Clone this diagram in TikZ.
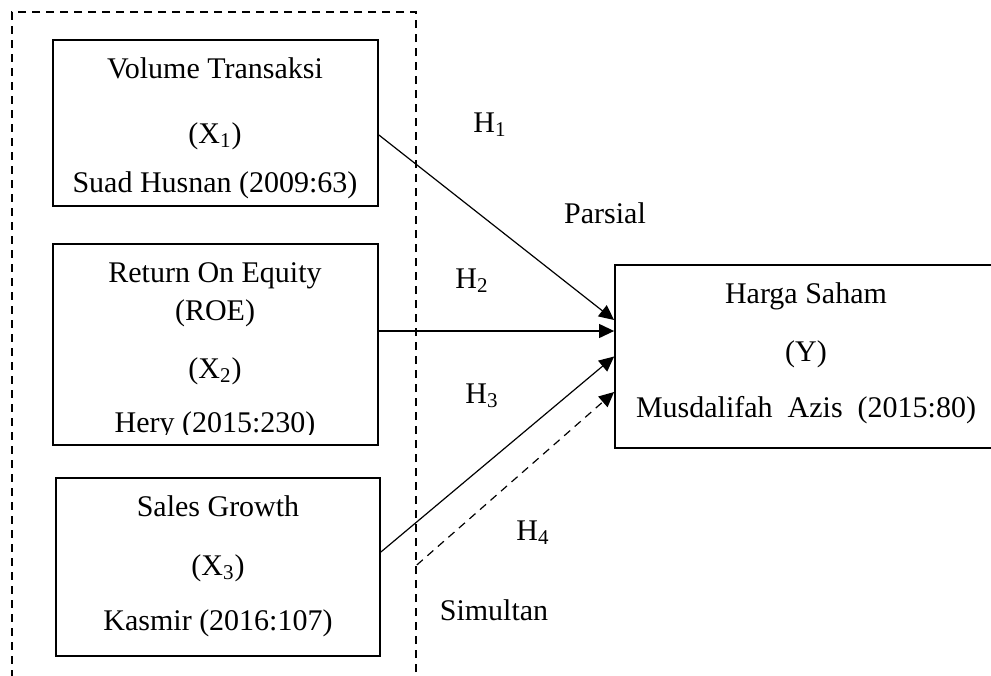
\documentclass[tikz,border=0pt]{standalone}
\usepackage{fontspec}
\setmainfont{Liberation Serif}
\usetikzlibrary{arrows.meta}

\begin{document}
\begin{tikzpicture}[x=0.5pt,y=-0.5pt,
box/.style={draw,line width=0.9pt,inner sep=0pt},
txt/.style={font=\fontsize{15}{18}\selectfont,anchor=base,inner sep=0pt},
group/.style={draw,line width=0.8pt,dash pattern=on 4pt off 3pt,inner sep=0pt},
link/.style={line width=0.6pt,-{Triangle[length=7.5pt,width=7pt]}},
sim/.style={link,dash pattern=on 4pt off 3pt}
]
\useasboundingbox (0,0) rectangle (991,675);

\node[group,minimum width=202pt,minimum height=345pt] (grp) at (214,357) {};

\node[box,minimum width=162.5pt,minimum height=83pt] (v1) at (215.5,123) {};
\node[box,minimum width=162.5pt,minimum height=100.5pt] (v2) at (215.5,344.5) {};
\node[box,minimum width=162pt,minimum height=89pt] (v3) at (218,567) {};
\node[box,minimum width=200pt,minimum height=91.5pt] (y) at (815,356.5) {};

\foreach \t/\yy [count=\i] in {Volume Transaksi/78,(X\textsubscript{1})/143,Suad Husnan (2009:63)/192}
  \node[txt] (v1-\i) at (215,\yy) {\t};
\foreach \t/\yy [count=\i] in {Return On Equity/282,(ROE)/320,(X\textsubscript{2})/378}
  \node[txt] (v2-\i) at (215,\yy) {\t};
\begin{scope}
\clip ([yshift=5.5pt]v2.south west) rectangle (v2.east);
\node[txt] (v2-4) at (215,432) {Hery (2015:230)};
\end{scope}
\foreach \t/\yy [count=\i] in {Sales Growth/516,(X\textsubscript{3})/575,Kasmir (2016:107)/630}
  \node[txt] (v3-\i) at (218,\yy) {\t};
\foreach \t/\yy [count=\i] in {Harga Saham/303,(Y)/361,Musdalifah\ \ Azis\ \ (2015:80)/417}
  \node[txt] (y-\i) at (806,\yy) {\t};

\node[txt] (h1) at (490,132) {H\textsubscript{1}};
\node[txt] (parsial) at (605,223) {Parsial};
\node[txt] (h2) at (472,288) {H\textsubscript{2}};
\node[txt] (h3) at (482,403) {H\textsubscript{3}};
\node[txt] (h4) at (533,540) {H\textsubscript{4}};
\node[txt] (simultan) at (494,620) {Simultan};

\draw[link] ([yshift=-6pt]v1.east) -- ([yshift=18.25pt]y.west);
\draw[link] ([yshift=6.75pt]v2.east) -- ([yshift=12.75pt]y.west);
\draw[link] ([yshift=7.5pt]v3.east) -- (y.west);
\draw[sim] ([yshift=-104pt]grp.east) -- ([yshift=-17.75pt]y.west);
\end{tikzpicture}
\end{document}
